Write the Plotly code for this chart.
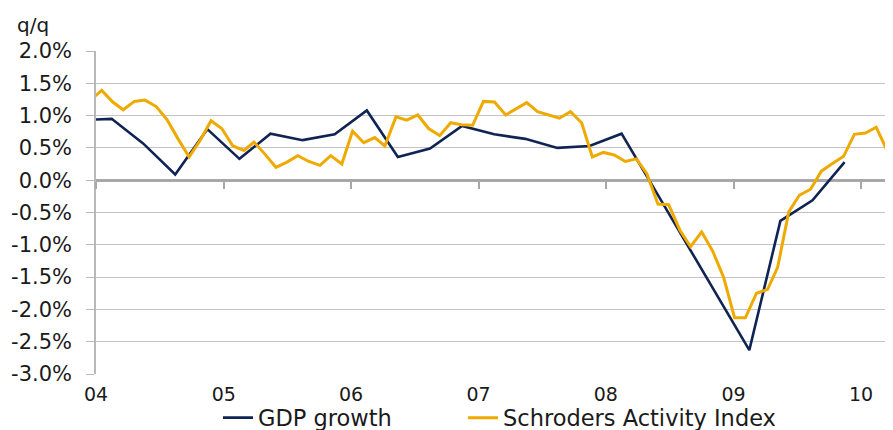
import pandas as pd
import plotly.graph_objects as go

# ---- data ----
# GDP growth, q/q %, quarterly (Q4 2003 .. Q4 2009), plotted mid-quarter
gdp_growth = [0.93,
              0.95, 0.57, 0.09, 0.79,
              0.33, 0.72, 0.62, 0.71,
              1.08, 0.36, 0.49, 0.84,
              0.71, 0.64, 0.50, 0.53,
              0.72, -0.10, -0.94, -1.78,
              -2.63, -0.63, -0.31, 0.28]
gdp_dates = list(pd.date_range("2003-11-01", periods=len(gdp_growth), freq="3MS") + pd.Timedelta(days=14))

# Schroders Activity Index, monthly (Dec 2003 .. Feb 2010)
sai = [1.24,
       1.39, 1.21, 1.09, 1.22, 1.24, 1.14, 0.94, 0.64, 0.36, 0.61, 0.92, 0.80,
       0.53, 0.46, 0.59, 0.40, 0.20, 0.28, 0.38, 0.29, 0.23, 0.38, 0.25, 0.76,
       0.58, 0.66, 0.53, 0.98, 0.93, 1.01, 0.80, 0.69, 0.89, 0.86, 0.85, 1.22,
       1.21, 1.01, 1.10, 1.20, 1.06, 1.01, 0.96, 1.06, 0.89, 0.36, 0.43, 0.39,
       0.29, 0.33, 0.10, -0.37, -0.38, -0.77, -1.03, -0.80, -1.10, -1.50, -2.13, -2.13,
       -1.75, -1.69, -1.35, -0.49, -0.23, -0.14, 0.14, 0.26, 0.37, 0.71, 0.73, 0.82,
       0.45, 1.18]
sai_dates = list(pd.date_range("2003-12-01", periods=len(sai), freq="MS") + pd.Timedelta(days=14))

year_ticks = ["2004-01-01", "2005-01-01", "2006-01-01", "2007-01-01",
              "2008-01-01", "2009-01-01", "2010-01-01"]
year_labels = ["04", "05", "06", "07", "08", "09", "10"]

y_ticks = [-3.0, -2.5, -2.0, -1.5, -1.0, -0.5, 0.0, 0.5, 1.0, 1.5, 2.0]
y_labels = ["-3.0%", "-2.5%", "-2.0%", "-1.5%", "-1.0%", "-0.5%",
            "0.0%", "0.5%", "1.0%", "1.5%", "2.0%"]

NAVY = "#102454"
GOLD = "#EEAA00"
GRID = "#c4c4c4"
AXIS = "#a8a8a8"
TEXT = "#1a1a1a"
FONT = "DejaVu Sans"

x_range = ["2004-01-01", "2010-04-02 17:00"]
x3_range = ["2003-12-30 02:00", "2010-01-30 21:00"]

W, H = 885, 422  # page body has an 8px margin

fig = go.Figure()
fig.add_trace(go.Scatter(x=[], y=[], xaxis="x2", yaxis="y", showlegend=False,
                         hoverinfo="skip"))
fig.add_trace(go.Scatter(x=gdp_dates, y=gdp_growth, mode="lines", name="GDP growth",
                         line=dict(color=NAVY, width=2.6), xaxis="x", yaxis="y",
                         legend="legend"))
fig.add_trace(go.Scatter(x=sai_dates, y=sai, mode="lines", name="Schroders Activity Index",
                         line=dict(color=GOLD, width=3), xaxis="x3", yaxis="y",
                         legend="legend2"))

legend_common = dict(orientation="h", xref="container", yref="container",
                     xanchor="left", y=(H - 410) / H, yanchor="middle",
                     font=dict(size=22.5, family=FONT, color=TEXT),
                     bgcolor="rgba(0,0,0,0)", borderwidth=0)

fig.update_layout(
    width=W, height=H,
    margin=dict(l=88, r=0, t=43, b=56, autoexpand=False),
    paper_bgcolor="white", plot_bgcolor="white",
    font=dict(family=FONT, color=TEXT, size=20),
    showlegend=True,
    legend=dict(x=210 / W, **legend_common),
    legend2=dict(x=455 / W, **legend_common),
    xaxis=dict(type="date", range=x_range, tickvals=year_ticks, ticktext=year_labels,
               showgrid=False, showline=False, ticks="", zeroline=False,
               tickfont=dict(size=19, family=FONT, color=TEXT),
               ticklabelstandoff=7),
    xaxis2=dict(type="date", overlaying="x", anchor="free", position=0.6,
                range=x_range, tickvals=year_ticks, showticklabels=False,
                ticks="outside", ticklen=7, tickwidth=2, tickcolor=AXIS,
                showline=True, linecolor=AXIS, linewidth=2.5,
                showgrid=False, zeroline=False, layer="below traces"),
    xaxis3=dict(type="date", overlaying="x", anchor="y", range=x3_range,
                visible=False),
    yaxis=dict(range=[-3, 2], tickvals=y_ticks, ticktext=y_labels,
               showgrid=True, gridcolor=GRID, gridwidth=1.3,
               showline=True, linecolor="#b8b8b8", linewidth=1.5,
               ticks="outside", ticklen=8, tickwidth=1.3, tickcolor="#b8b8b8",
               zeroline=False, layer="below traces",
               tickfont=dict(size=21, family=FONT, color=TEXT),
               ticklabelstandoff=10),
    annotations=[dict(text="q/q", xref="paper", yref="paper",
                      x=(15 - 96) / 797, xanchor="left",
                      y=(374 - 25) / 323, yanchor="middle",
                      showarrow=False, font=dict(size=20, family=FONT, color=TEXT))],
)

fig.write_html("out.html")
